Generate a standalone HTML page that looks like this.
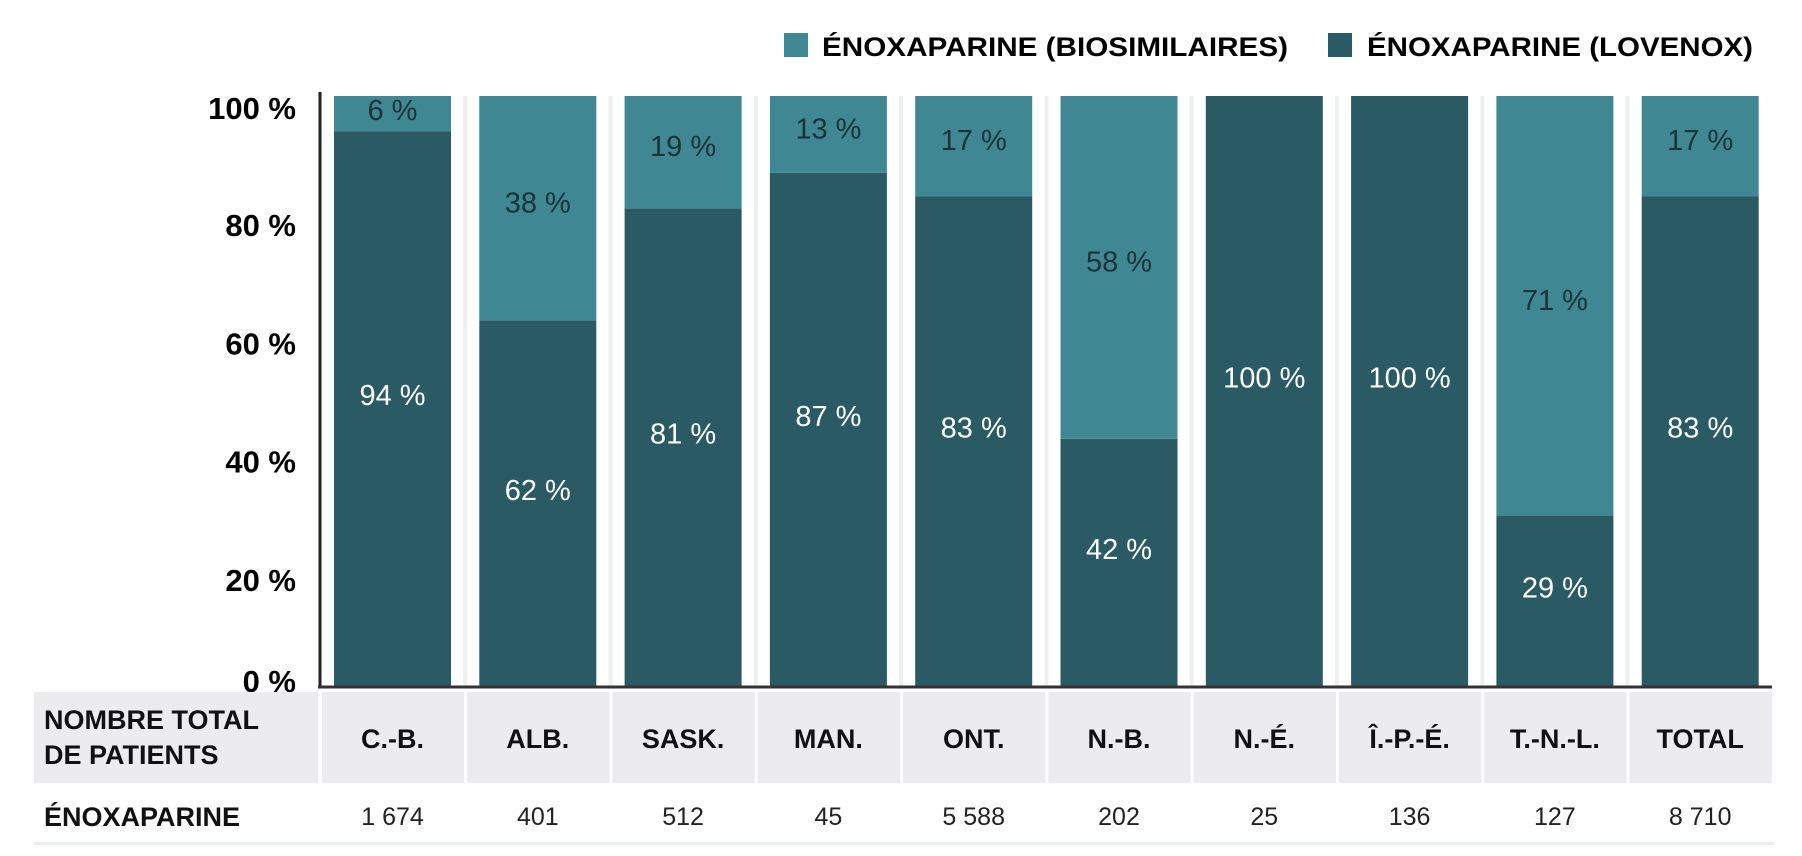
<!DOCTYPE html>
<html><head><meta charset="utf-8"><style>
html,body{margin:0;padding:0;background:#fff;}
svg{display:block;font-family:"Liberation Sans",sans-serif;}
</style></head><body>
<svg id="chart" width="1802" height="856" viewBox="0 0 1802 856" xmlns="http://www.w3.org/2000/svg">
<g id="legend">
  <rect x="784" y="33" width="24" height="24" fill="#3f8893"/>
  <text x="822" y="56" font-size="27" font-weight="bold" textLength="466" lengthAdjust="spacingAndGlyphs">ÉNOXAPARINE (BIOSIMILAIRES)</text>
  <rect x="1328" y="33" width="24" height="24" fill="#2a5a63"/>
  <text x="1367" y="56" font-size="27" font-weight="bold" textLength="386" lengthAdjust="spacingAndGlyphs">ÉNOXAPARINE (LOVENOX)</text>
</g>
<g id="grid"></g>
<g id="bars"></g>
<g id="yaxis"></g>
<g id="table"></g>
</svg>
<script>
const categories = ["C.-B.","ALB.","SASK.","MAN.","ONT.","N.-B.","N.-É.","Î.-P.-É.","T.-N.-L.","TOTAL"];
const lovenox = [94,62,81,87,83,42,100,100,29,83];
const biosim = [6,38,19,13,17,58,0,0,71,17];
const patients = ["1 674","401","512","45","5 588","202","25","136","127","8 710"];
const yTicks = [0,20,40,60,80,100];

const NS="http://www.w3.org/2000/svg";
const y0=687, y100=96;
const yScale=v=>y0-(y0-y100)*v/100;
const x0=334, pitch=145.3, bw=117;
const xScale=i=>x0+i*pitch;
function mk(tag,attrs,parent,txt){const e=document.createElementNS(NS,tag);for(const k in attrs)e.setAttribute(k,attrs[k]);if(txt!==undefined)e.textContent=txt;parent.appendChild(e);return e;}
const grid=document.getElementById('grid'),bars=document.getElementById('bars'),yaxis=document.getElementById('yaxis'),table=document.getElementById('table');

for(let i=0;i<categories.length-1;i++){
  const sx=xScale(i)+bw+(pitch-bw)/2;
  const s=mk('rect',{x:sx-2,y:y100,width:4,height:y0-y100,fill:'#eef0f0'},grid);
  
  
}
categories.forEach((c,i)=>{
  const x=xScale(i);
  const g=mk('g',{},bars);
  
  
  const yl=yScale(lovenox[i]);
  const d=mk('rect',{x:x,y:yl,width:bw,height:y0-yl,fill:'#2a5a63'},g);
  
  
  if(biosim[i]>0){
    const yb=yScale(lovenox[i]+biosim[i]);
    const l=mk('rect',{x:x,y:yb,width:bw,height:yl-yb,fill:'#3f8893'},g);
    
    
    const ly=Math.max((yb+yl)/2-6, yb+14);
    const t=mk('text',{x:x+bw/2,y:ly+10,'text-anchor':'middle','font-size':29,fill:'#1b3338'},g,biosim[i]+' %');
    
    
  }
  const t2=mk('text',{x:x+bw/2,y:(yl+y0)/2-4,'text-anchor':'middle','font-size':29,fill:'#ffffff'},g,lovenox[i]+' %');
  
  
});
const ax=mk('line',{x1:320,y1:y100-4,x2:320,y2:y0,stroke:'#222',"stroke-width":3},yaxis);


const bx=mk('line',{x1:318,y1:y0,x2:1772,y2:y0,stroke:'#333',"stroke-width":3},yaxis);


yTicks.forEach(v=>{
  let yy=yScale(v)+22;
  if(v===100) yy=yScale(v)+23;
  if(v===0) yy=y0+5;
  const t=mk('text',{x:296,y:yy,'text-anchor':'end','font-size':31,'font-weight':'bold',fill:'#000'},yaxis,v+' %');
  
  
});
// table
const hb=mk('rect',{x:34,y:692,width:284,height:91,fill:'#ececee'},table);


const h1=mk('text',{x:44,y:729,'font-size':27,'font-weight':'bold',fill:'#111'},table,'NOMBRE TOTAL');


const h2=mk('text',{x:44,y:764,'font-size':27,'font-weight':'bold',fill:'#111'},table,'DE PATIENTS');


const h3=mk('text',{x:44,y:826,'font-size':27,'font-weight':'bold',fill:'#111'},table,'ÉNOXAPARINE');


categories.forEach((c,i)=>{
  const cx=xScale(i)+bw/2;
  const r=mk('rect',{x:cx-pitch/2+2,y:692,width:pitch-3,height:91,fill:'#ececee'},table);
  
  
  const t=mk('text',{x:cx,y:748,'text-anchor':'middle','font-size':27,'font-weight':'bold',fill:'#111'},table,c);
  
  
  const n=mk('text',{x:cx,y:825,'text-anchor':'middle','font-size':25,fill:'#222'},table,patients[i]);
  
  
});
const bl=mk('rect',{x:34,y:842,width:1740,height:3,fill:'#eceeee'},table);


</script>
</body></html>
